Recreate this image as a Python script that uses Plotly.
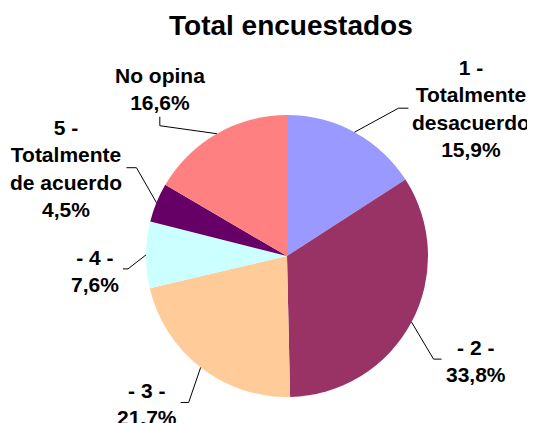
import math
import plotly.graph_objects as go

# ---- data ----
labels = ["1 - Totalmente desacuerdo", "- 2 -", "- 3 -", "- 4 -",
          "5 - Totalmente de acuerdo", "No opina"]
label_texts = ["1 -<br>Totalmente<br>desacuerdo<br>15,9%", "- 2 -<br>33,8%",
               "- 3 -<br>21.7%", "- 4 -<br>7,6%",
               "5 -<br>Totalmente<br>de acuerdo<br>4,5%", "No opina<br>16,6%"]
values = [15.9, 33.8, 21.7, 7.6, 4.5, 16.6]
colors = ["#9999FF", "#993366", "#FFCC99", "#CCFFFF", "#660066", "#FF8080"]
title = "Total encuestados"

# ---- layout / styling ----
OFF = 8                      # page body margin of the browser
W, H = 535 - OFF, 423 - OFF
cx, cy, r = 287, 256, 141    # pie geometry in window pixels
FONT = "Liberation Sans, Arial, sans-serif"
# leader line: elbow offset from slice edge, end offset from elbow, text anchoring
leaders = [
    dict(elbow=(44, -24), end=(10, 0), xanchor="left", yanchor="middle", gap=(2, 0)),
    dict(elbow=(22, 37), end=(8, 0), xanchor="left", yanchor="middle", gap=(2, 2)),
    dict(elbow=(-12, 35), end=(-8, 0), xanchor="right", yanchor="middle", gap=(-2, 2)),
    dict(elbow=(-18, 14), end=(-5, 0), xanchor="right", yanchor="middle", gap=(-2, 2)),
    dict(elbow=(-20, -35), end=(-10, 0), xanchor="right", yanchor="middle", gap=(-2, 1)),
    dict(elbow=(-57, -8), end=(0, -9), xanchor="center", yanchor="bottom", gap=(0, -1)),
]

def px(x):
    return (x - OFF) / W

def py(y):
    return 1 - (y - OFF) / H

fig = go.Figure(go.Pie(
    labels=labels, values=values, sort=False, direction="clockwise", rotation=0,
    marker=dict(colors=colors, line=dict(width=0)),
    textinfo="none", textposition="none", hoverinfo="label+percent",
    domain=dict(x=[px(cx - r), px(cx + r)], y=[py(cy + r), py(cy - r)]),
    showlegend=False,
))

total = sum(values)
cum = 0.0
shapes, annotations = [], []
for v, txt, ld in zip(values, label_texts, leaders):
    mid = (cum + v / 2) / total * 2 * math.pi
    cum += v
    ex = cx + r * math.sin(mid)
    ey = cy - r * math.cos(mid)
    bx, by = ex + ld["elbow"][0], ey + ld["elbow"][1]
    qx, qy = bx + ld["end"][0], by + ld["end"][1]
    shapes.append(dict(type="path", xref="paper", yref="paper",
                       path=f"M {px(ex)} {py(ey)} L {px(bx)} {py(by)} L {px(qx)} {py(qy)}",
                       line=dict(color="black", width=1)))
    annotations.append(dict(text=f"<b>{txt}</b>", xref="paper", yref="paper",
                            x=px(qx + ld["gap"][0]), y=py(qy + ld["gap"][1]),
                            xanchor=ld["xanchor"], yanchor=ld["yanchor"],
                            showarrow=False, align="center",
                            font=dict(family=FONT, size=21, color="black")))

annotations.append(dict(text=f"<b>{title}</b>", xref="paper", yref="paper",
                        x=px(291), y=py(25), xanchor="center", yanchor="middle",
                        showarrow=False, font=dict(family=FONT, size=28, color="black")))

fig.update_layout(width=W, height=H, margin=dict(l=0, r=0, t=0, b=0),
                  paper_bgcolor="white", plot_bgcolor="white",
                  shapes=shapes, annotations=annotations)
fig.write_html("out.html")
